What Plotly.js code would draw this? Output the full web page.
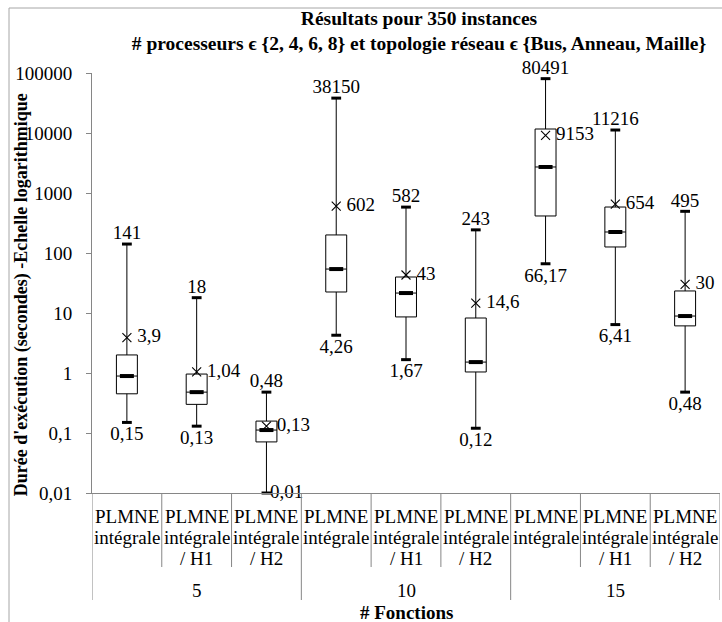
<!DOCTYPE html>
<html>
<head>
<meta charset="utf-8">
<script src="https://cdn.plot.ly/plotly-3.0.1.min.js"></script>
<style>
  html, body { margin: 0; padding: 0; background: #ffffff; }
  #chart { width: 722px; height: 622px; }
</style>
</head>
<body>
<div id="chart"></div>
<script>
// ---- Data ----
const groups = ['5', '10', '15'];
const methodLine1 = ['PLMNE', 'PLMNE', 'PLMNE'];
const methodLine2 = ['intégrale', 'intégrale', 'intégrale'];
const methodLine3 = ['', '/ H1', '/ H2'];

const minVals    = [0.15, 0.13, 0.01, 4.26, 1.67, 0.12, 66.17, 6.41, 0.48];
const q1Vals     = [0.45, 0.30, 0.071, 22.4, 8.6, 1.04, 414, 126, 6.1];
const medianVals = [0.89, 0.48, 0.112, 54, 21.5, 1.52, 2715, 224, 8.9];
const q3Vals     = [2.0, 0.96, 0.158, 200, 39.8, 8.25, 11660, 584, 23.3];
const maxVals    = [141, 18, 0.48, 38150, 582, 243, 80491, 11216, 495];
const meanVals   = [3.9, 1.04, 0.13, 602, 43, 14.6, 9153, 654, 30];

const yTickVals  = [0.01, 0.1, 1, 10, 100, 1000, 10000, 100000];
const yTickText  = ['0,01', '0,1', '1', '10', '100', '1000', '10000', '100000'];

// ---- Derived ----
const nMethods = methodLine1.length;
const positions = [];
const catL1 = [], catL2 = [], catL3 = [];
groups.forEach((g, gi) => {
  for (let m = 0; m < nMethods; m++) {
    positions.push(gi * nMethods + m);
    catL1.push(methodLine1[m]); catL2.push(methodLine2[m]); catL3.push(methodLine3[m]);
  }
});
const fmt = v => String(v).replace('.', ',');

const FONT = "'Liberation Serif', 'Times New Roman', serif";
const FS = 19;
const GRID = '#868686';

// min label placement: label goes to the right when it sits on the axis floor
const minPos = minVals.map(v => v <= 0.01 ? 'middle right' : 'bottom center');

const traces = [
  {
    type: 'box',
    x: positions,
    q1: q1Vals, median: medianVals, q3: q3Vals,
    lowerfence: minVals, upperfence: maxVals,
    width: 0.3, whiskerwidth: 0,
    boxpoints: false,
    fillcolor: '#ffffff',
    line: { color: '#000000', width: 1 },
    hoverinfo: 'skip', showlegend: false
  },
  { // whisker caps (max)
    type: 'scatter', mode: 'markers', x: positions, y: maxVals,
    marker: { symbol: 'line-ew', size: 7, line: { color: '#000', width: 3 } },
    hoverinfo: 'skip', showlegend: false, cliponaxis: false
  },
  { // whisker caps (min)
    type: 'scatter', mode: 'markers', x: positions, y: minVals,
    marker: { symbol: 'line-ew', size: 7, line: { color: '#000', width: 3 } },
    hoverinfo: 'skip', showlegend: false, cliponaxis: false
  },
  { // medians
    type: 'scatter', mode: 'markers', x: positions, y: medianVals,
    marker: { symbol: 'line-ew', size: 10, line: { color: '#000', width: 4 } },
    hoverinfo: 'skip', showlegend: false
  },
  { // means
    type: 'scatter', mode: 'markers', x: positions, y: meanVals,
    marker: { symbol: 'x-thin', size: 9, line: { color: '#000', width: 1.1 } },
    hoverinfo: 'skip', showlegend: false
  },
  { // max labels
    type: 'scatter', mode: 'text', x: positions, y: maxVals,
    text: maxVals.map(fmt), textposition: 'top center',
    textfont: { family: FONT, size: FS, color: '#000' },
    hoverinfo: 'skip', showlegend: false, cliponaxis: false
  },
  { // min labels
    type: 'scatter', mode: 'markers+text', x: positions, y: minVals,
    text: minVals.map(fmt), textposition: minPos,
    marker: { size: 4, color: 'rgba(0,0,0,0)' },
    textfont: { family: FONT, size: FS, color: '#000' },
    hoverinfo: 'skip', showlegend: false, cliponaxis: false
  },
  { // mean labels
    type: 'scatter', mode: 'markers+text', x: positions, y: meanVals,
    text: meanVals.map(fmt), textposition: 'middle right',
    marker: { size: 15, color: 'rgba(0,0,0,0)' },
    textfont: { family: FONT, size: FS, color: '#000' },
    hoverinfo: 'skip', showlegend: false, cliponaxis: false
  }
];

// category separators and labels below the axis
const plotH = 420;
const py = px => -px / plotH;   // pixels below axis -> paper y
const shapes = [];
for (let k = 0; k <= positions.length; k++) {
  const isGroup = k % nMethods === 0;
  shapes.push({
    type: 'line', xref: 'x', yref: 'paper',
    x0: k - 0.5, x1: k - 0.5, y0: 0, y1: py(isGroup ? 107 : 74),
    line: { color: GRID, width: 1 }
  });
}
// chart-area border
shapes.push({
  type: 'rect', xref: 'paper', yref: 'paper',
  x0: -83 / 628, x1: 1.3, y0: -1, y1: 485 / plotH,
  line: { color: '#a6a6a6', width: 1 }, fillcolor: 'rgba(0,0,0,0)'
});

const annotations = [];
const catFont = { family: FONT, size: FS, color: '#000' };
positions.forEach((p, i) => {
  [[catL1[i], 23], [catL2[i], 44], [catL3[i], 65]].forEach(([t, off]) => {
    if (t) annotations.push({
      xref: 'x', yref: 'paper', x: p, y: py(off), text: t,
      showarrow: false, xanchor: 'center', yanchor: 'middle', font: catFont
    });
  });
});
groups.forEach((g, gi) => {
  annotations.push({
    xref: 'x', yref: 'paper', x: gi * nMethods + (nMethods - 1) / 2, y: py(97),
    text: g, showarrow: false, xanchor: 'center', yanchor: 'middle', font: catFont
  });
});
annotations.push({
  xref: 'paper', yref: 'paper', x: 0.5, y: py(119), text: '# Fonctions',
  showarrow: false, xanchor: 'center', yanchor: 'middle',
  font: { family: FONT, size: FS, color: '#000', weight: 'bold' }
});
annotations.push({
  xref: 'paper', yref: 'paper', x: -71 / 628, y: 0.471,
  text: "Durée d'exécution (secondes) -Echelle logarithmique",
  textangle: -90, showarrow: false, xanchor: 'center', yanchor: 'middle',
  font: { family: FONT, size: 18, color: '#000', weight: 'bold' }
});

const layout = {
  width: 722, height: 622,
  margin: { l: 92, r: 2, t: 73, b: 129 },
  paper_bgcolor: '#ffffff', plot_bgcolor: '#ffffff',
  showlegend: false,
  font: { family: FONT, color: '#000' },
  title: {
    text: 'Résultats pour 350 instances<br># processeurs ϵ {2, 4, 6, 8} et topologie réseau ϵ {Bus, Anneau, Maille}',
    font: { family: FONT, size: 19.5, color: '#000', weight: 'bold' },
    x: 419 / 722, xanchor: 'center', xref: 'container',
    y: 1 - 25 / 622, yanchor: 'middle', yref: 'container'
  },
  xaxis: {
    range: [-0.5, positions.length - 0.5],
    showticklabels: false, ticks: '', showgrid: false, zeroline: false,
    showline: true, linecolor: GRID, linewidth: 1, fixedrange: true
  },
  yaxis: {
    type: 'log', range: [-2, 5],
    tickvals: yTickVals, ticktext: yTickText,
    ticks: 'outside', ticklen: 5, tickcolor: GRID,
    ticklabelstandoff: 10,
    tickfont: { family: FONT, size: FS, color: '#000' },
    showgrid: false, zeroline: false,
    showline: true, linecolor: GRID, linewidth: 1, fixedrange: true
  },
  shapes: shapes,
  annotations: annotations
};

Plotly.newPlot('chart', traces, layout, { displayModeBar: false, staticPlot: true });
</script>
</body>
</html>
